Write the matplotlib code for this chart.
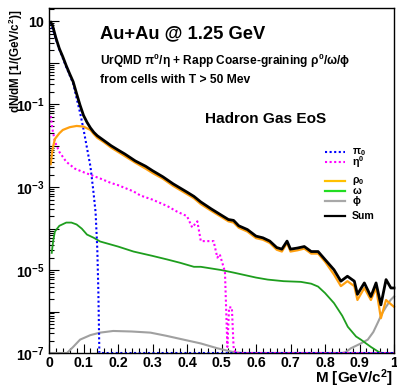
import numpy as np
import matplotlib
matplotlib.use("Agg")
import matplotlib.pyplot as plt
from matplotlib.ticker import FixedLocator, FuncFormatter, LogLocator, MultipleLocator, NullFormatter

plt.rcParams["font.family"] = ["Liberation Sans", "DejaVu Sans"]
plt.rcParams["font.weight"] = "bold"
plt.rcParams["mathtext.fontset"] = "custom"
plt.rcParams["mathtext.rm"] = "Liberation Sans"
plt.rcParams["mathtext.it"] = "Liberation Sans"
plt.rcParams["mathtext.bf"] = "Liberation Sans:bold"

YMIN, YMAX = 1e-7, 21.0

# pi0 (UrQMD)
m_pi0 = [0.005, 0.02, 0.03, 0.04, 0.05, 0.06, 0.07, 0.08, 0.09, 0.10, 0.11,
         0.12, 0.128, 0.135, 0.14, 0.143, 0.146, 1.0]
v_pi0 = [9.3, 3.7, 2.1, 1.3, 0.79, 0.50, 0.32, 0.14, 0.063, 0.025, 0.0089,
         0.0032, 8.9e-4, 2.5e-4, 3.2e-5, 3.2e-6, 1e-9, 1e-9]

# eta (UrQMD)
m_eta = [0.005, 0.01, 0.017, 0.03, 0.05, 0.075, 0.10, 0.15, 0.18, 0.20, 0.245,
         0.265, 0.30, 0.343, 0.37, 0.40, 0.415, 0.43, 0.44, 0.477, 0.488, 0.495,
         0.51, 0.517, 0.522, 0.53, 0.535, 0.54, 1.0]
v_eta = [5.2e-2, 2.5e-2, 1.26e-2, 7.1e-3, 4.1e-3, 2.8e-3, 2.3e-3, 1.6e-3, 1.26e-3,
         1.12e-3, 7.9e-4, 6.3e-4, 5.0e-4, 3.5e-4, 2.6e-4, 2.0e-4, 1.07e-4, 1.5e-4,
         5.0e-5, 5.0e-5, 2.0e-5, 2.4e-5, 9.1e-6, 1.4e-7, 1.26e-6, 1.26e-6, 1.4e-7,
         1e-9, 1e-9]

# rho0 (coarse graining)
m_rho = [0.005, 0.01, 0.017, 0.03, 0.04, 0.06, 0.08, 0.10, 0.12, 0.13, 0.14,
         0.16, 0.18, 0.20, 0.22, 0.25, 0.28, 0.30, 0.33, 0.36, 0.40, 0.42, 0.44,
         0.47, 0.50, 0.52, 0.535, 0.55, 0.575, 0.60, 0.62, 0.64, 0.66, 0.675,
         0.69, 0.70, 0.72, 0.74, 0.76, 0.78, 0.80, 0.826, 0.846, 0.865, 0.885,
         0.894, 0.914, 0.933, 0.948, 0.962, 0.977, 0.991, 1.0]
v_rho = [3.6e-3, 7.9e-3, 1.45e-2, 2.0e-2, 2.4e-2, 2.8e-2, 3.0e-2, 2.9e-2, 2.4e-2,
         1.9e-2, 1.55e-2, 1.2e-2, 9.0e-3, 7.1e-3, 5.6e-3, 3.9e-3, 2.8e-3, 2.2e-3,
         1.6e-3, 1.07e-3, 6.8e-4, 5.4e-4, 3.9e-4, 2.7e-4, 1.9e-4, 1.5e-4, 1.4e-4,
         1.05e-4, 8.5e-5, 5.9e-5, 5.4e-5, 4.5e-5, 3.1e-5, 2.8e-5, 4.5e-5, 2.8e-5,
         3.0e-5, 3.3e-5, 2.5e-5, 2.5e-5, 1.6e-5, 7.8e-6, 4.1e-6, 5.4e-6, 4.1e-6,
         1.9e-6, 3.7e-6, 1.9e-6, 3.7e-6, 6.9e-7, 1.9e-6, 1.5e-6, 1.3e-6]

# omega (coarse graining)
m_omega = [0.008, 0.012, 0.017, 0.03, 0.05, 0.065, 0.08, 0.095, 0.11, 0.13,
           0.148, 0.20, 0.245, 0.30, 0.343, 0.38, 0.42, 0.44, 0.50, 0.535, 0.60,
           0.634, 0.68, 0.73, 0.76, 0.78, 0.80, 0.826, 0.85, 0.866, 0.89, 0.904,
           0.933, 0.955, 0.965, 1.0]
v_omega = [2.6e-5, 5.0e-5, 8.5e-5, 1.17e-4, 1.4e-4, 1.4e-4, 1.26e-4, 1.0e-4,
           7.2e-5, 6.0e-5, 4.9e-5, 3.7e-5, 2.8e-5, 2.2e-5, 1.8e-5, 1.5e-5,
           1.2e-5, 1.2e-5, 1.0e-5, 8.7e-6, 6.6e-6, 5.9e-6, 5.4e-6, 5.2e-6,
           4.7e-6, 4.0e-6, 2.8e-6, 1.6e-6, 7.9e-7, 4.3e-7, 2.5e-7, 2.1e-7,
           1.4e-7, 1.07e-7, 1e-9, 1e-9]

# phi (coarse graining)
m_phi = [0.005, 0.045, 0.052, 0.07, 0.09, 0.12, 0.148, 0.186, 0.24, 0.294,
         0.34, 0.39, 0.44, 0.488, 0.535, 0.56, 0.85, 0.86, 0.875, 0.904, 0.924,
         0.94, 0.953, 0.965, 0.977, 0.99, 1.0]
v_phi = [1e-9, 1e-9, 1.0e-7, 1.4e-7, 2.1e-7, 2.7e-7, 3.1e-7, 3.4e-7, 3.3e-7,
         3.1e-7, 2.6e-7, 2.1e-7, 1.7e-7, 1.3e-7, 1.05e-7, 1e-9, 1e-9, 1.05e-7,
         1.3e-7, 1.7e-7, 2.1e-7, 3.2e-7, 5.4e-7, 8.9e-7, 1.3e-6, 1.9e-6, 2.3e-6]

# sum of all contributions
m_sum = [0.005, 0.01, 0.02, 0.03, 0.04, 0.05, 0.06, 0.07, 0.08, 0.09, 0.10,
         0.11, 0.12, 0.13, 0.14, 0.16, 0.18, 0.20, 0.22, 0.25, 0.28, 0.30, 0.33,
         0.36, 0.40, 0.42, 0.44, 0.47, 0.50, 0.52, 0.535, 0.55, 0.575, 0.60,
         0.62, 0.64, 0.66, 0.675, 0.69, 0.70, 0.72, 0.74, 0.76, 0.78, 0.80,
         0.826, 0.846, 0.865, 0.885, 0.894, 0.914, 0.933, 0.948, 0.962, 0.977,
         0.991, 1.0]
v_sum = [9.5, 8.1, 4.0, 2.2, 1.4, 0.85, 0.54, 0.35, 0.18, 0.095, 0.054, 0.037,
         0.027, 0.021, 0.0174, 0.0132, 0.010, 0.0079, 0.0063, 0.0043, 0.0032,
         0.0025, 0.00178, 0.0012, 7.6e-4, 6.0e-4, 4.4e-4, 3.0e-4, 2.1e-4,
         1.66e-4, 1.58e-4, 1.17e-4, 9.5e-5, 6.6e-5, 6.0e-5, 5.0e-5, 3.5e-5,
         3.2e-5, 5.0e-5, 3.2e-5, 3.4e-5, 3.7e-5, 2.8e-5, 2.8e-5, 1.8e-5,
         1.02e-5, 5.4e-6, 7.1e-6, 5.4e-6, 2.6e-6, 4.9e-6, 2.3e-6, 4.9e-6,
         1.45e-6, 5.9e-6, 3.7e-6, 3.7e-6]

legend_labels = [r"$\pi_\mathbf{0}$", r"$\eta^\mathbf{0}$", r"$\rho_\mathbf{0}$",
                 r"$\omega$", r"$\phi$", "Sum"]

DOT = (0, (1, 1.2))
styles = [
    dict(color="#0000ff", lw=1.5, ls=DOT),
    dict(color="#ff00ff", lw=1.5, ls=DOT),
    dict(color="#ffc000", lw=1.6),
    dict(color="#22dd22", lw=1.6),
    dict(color="#a8a8a8", lw=1.6),
    dict(color="black", lw=1.6),
]
legend_rows_px = [152, 162, 181, 191, 201, 216]

fig = plt.figure(figsize=(3.97, 3.88), dpi=100)
ax = fig.add_axes([49 / 397, 35 / 388, 345 / 397, 345 / 388])


def draw(m, v, **kw):
    ax.plot(m, np.clip(v, YMIN, None), clip_on=False, **kw)


draw(m_phi, v_phi, color="#a0a0a0", lw=1.5)
draw(m_omega, v_omega, color="#1e9e1e", lw=1.3)
draw(m_eta, v_eta, color="#ff00ff", lw=1.5, ls=DOT)
draw(m_pi0, v_pi0, color="#0000ff", lw=1.5, ls=DOT)
draw(m_rho, v_rho, color="#ffa010", lw=1.6)
draw(m_sum, v_sum, color="black", lw=2.0)

ax.set_yscale("log")
ax.set_xlim(0, 1)
ax.set_ylim(YMIN, YMAX)

ax.xaxis.set_major_locator(MultipleLocator(0.1))
ax.xaxis.set_minor_locator(MultipleLocator(0.02))
ax.xaxis.set_major_formatter(FuncFormatter(lambda x, p: "%g" % round(x, 2)))
ax.yaxis.set_major_locator(FixedLocator([10.0 ** e for e in range(-7, 2)]))
ax.yaxis.set_minor_locator(LogLocator(base=10, subs=np.arange(2, 10)))
ax.yaxis.set_minor_formatter(NullFormatter())


def ylab(y, pos):
    e = int(round(np.log10(y)))
    if e % 2 == 0:
        return ""
    if e == 1:
        return r"$\mathbf{10}$"
    return r"$\mathbf{10^{%d}}$" % e


ax.yaxis.set_major_formatter(FuncFormatter(ylab))
ax.tick_params(which="both", direction="in", top=False, right=False, labelsize=10.2)
ax.tick_params(axis="y", which="major", length=7.5, width=0.8, pad=3)
ax.tick_params(axis="y", which="minor", length=3.5, width=0.8)
ax.tick_params(axis="x", which="major", length=6.5, width=0.8, pad=2)
ax.tick_params(axis="x", which="minor", length=3.5, width=0.8)
for lab in ax.get_xticklabels() + ax.get_yticklabels():
    lab.set_fontweight("bold")
for sp in ax.spines.values():
    sp.set_linewidth(1.0)
    sp.set_zorder(5)

ax.set_xlabel(r"M [GeV/c$^\mathbf{2}$]", fontsize=11, fontweight="bold", ha="right", va="center")
ax.xaxis.set_label_coords(0.997, -0.072)
ax.set_ylabel(r"dN/dM [1/(GeV/c$^\mathbf{2}$)]", fontsize=8.4, fontweight="bold", ha="right", va="center")
ax.yaxis.set_label_coords(-0.097, 0.994)

ax.text(0.147, 0.925, "Au+Au @ 1.25 GeV", transform=ax.transAxes, fontsize=13.2,
        fontweight="bold", va="center")
ax.text(0.147, 0.848, r"UrQMD $\pi^\mathbf{0}/\eta$ + Rapp Coarse-graining $\rho^\mathbf{0}/\omega/\phi$",
        transform=ax.transAxes, fontsize=8.6, fontweight="bold", va="center")
ax.text(0.147, 0.79, "from cells with T > 50 Mev", transform=ax.transAxes, fontsize=8.7,
        fontweight="bold", va="center")
ax.text(0.452, 0.677, "Hadron Gas EoS", transform=ax.transAxes, fontsize=11.1,
        fontweight="bold", va="center")

# legend drawn entry by entry to keep ROOT-like spacing
for lab, st, ypx in zip(legend_labels, styles, legend_rows_px):
    ya = (353 - ypx) / 345
    ax.plot([0.80, 0.858], [ya, ya], transform=ax.transAxes, clip_on=False, **st)
    ax.text(0.878, ya, lab, transform=ax.transAxes, fontsize=7.6, fontweight="bold",
            va="center", ha="left")

fig.savefig("out.png", dpi=100)
